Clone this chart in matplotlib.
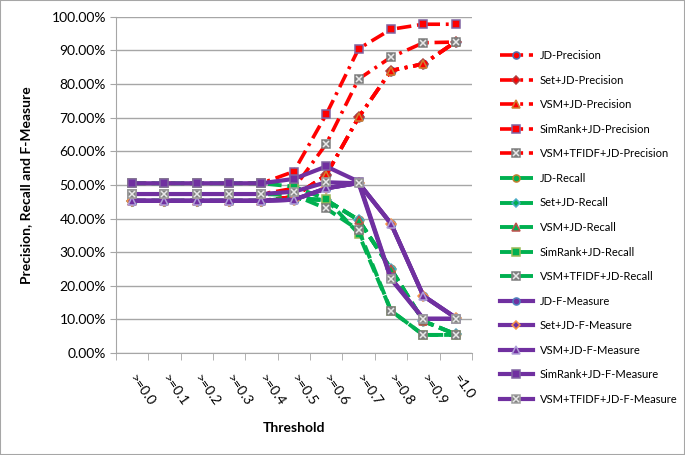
"""Precision / Recall / F-Measure vs. similarity threshold for the five JD variants."""
import matplotlib
matplotlib.use("Agg")
import matplotlib.pyplot as plt
from matplotlib.patches import Rectangle
from matplotlib.legend_handler import HandlerTuple
from matplotlib.ticker import FuncFormatter, FixedLocator

thresholds = [">=0.0", ">=0.1", ">=0.2", ">=0.3", ">=0.4", ">=0.5",
              ">=0.6", ">=0.7", ">=0.8", ">=0.9", "=1.0"]
methods = ["JD", "Set+JD", "VSM+JD", "SimRank+JD", "VSM+TFIDF+JD"]

# precision (%)
jd_p      = [45.3, 45.3, 45.3, 45.3, 45.3, 46.5, 53.0, 70.1, 84.0, 86.0, 92.6]
set_p     = [45.3, 45.3, 45.3, 45.3, 45.3, 46.5, 53.0, 70.1, 84.0, 86.0, 92.6]
vsm_p     = [45.3, 45.3, 45.3, 45.3, 45.3, 46.5, 53.0, 70.1, 84.0, 86.0, 92.6]
simrank_p = [50.5, 50.5, 50.5, 50.5, 50.5, 54.0, 71.0, 90.5, 96.3, 97.8, 97.8]
tfidf_p   = [47.3, 47.3, 47.3, 47.3, 47.3, 49.0, 62.2, 81.5, 88.0, 92.3, 92.5]
# recall (%)
jd_r      = [45.3, 45.3, 45.3, 45.3, 45.3, 46.0, 45.5, 39.6, 25.0, 9.5, 5.6]
set_r     = [45.3, 45.3, 45.3, 45.3, 45.3, 46.0, 45.5, 39.6, 25.0, 9.5, 5.6]
vsm_r     = [45.3, 45.3, 45.3, 45.3, 45.3, 46.0, 45.5, 39.6, 25.0, 9.5, 5.6]
simrank_r = [50.5, 50.5, 50.5, 50.5, 50.5, 49.5, 45.8, 35.5, 12.6, 5.4, 5.4]
tfidf_r   = [47.3, 47.3, 47.3, 47.3, 47.3, 47.0, 43.0, 36.6, 12.6, 5.4, 5.4]
# f-measure (%)
jd_f      = [45.3, 45.3, 45.3, 45.3, 45.3, 45.6, 49.0, 50.6, 38.5, 17.0, 10.5]
set_f     = [45.3, 45.3, 45.3, 45.3, 45.3, 45.6, 49.0, 50.6, 38.5, 17.0, 10.5]
vsm_f     = [45.3, 45.3, 45.3, 45.3, 45.3, 45.6, 49.0, 50.6, 38.5, 17.0, 10.5]
simrank_f = [50.5, 50.5, 50.5, 50.5, 50.5, 51.8, 55.5, 51.0, 22.3, 10.2, 10.2]
tfidf_f   = [47.3, 47.3, 47.3, 47.3, 47.3, 48.0, 50.8, 50.5, 22.0, 10.2, 10.2]

precision = [jd_p, set_p, vsm_p, simrank_p, tfidf_p]
recall = [jd_r, set_r, vsm_r, simrank_r, tfidf_r]
fmeasure = [jd_f, set_f, vsm_f, simrank_f, tfidf_f]

plt.rcParams["font.family"] = ["Lato", "DejaVu Sans"]

markers = ["o", "D", "^", "s", "s"]
groups = [
    ("Precision", precision, "#FF0000", dict(dashes=(4, 1.6, 0.8, 1.6)), 2.6,
     ["#4F6FB0", "#B04040", "#D08030", "#8064A2", "#7F7F7F"]),
    ("Recall", recall, "#00B050", dict(dashes=(3.5, 1.5)), 2.8,
     ["#C08030", "#4BACC6", "#C0504D", "#9BBB59", "#7F7F7F"]),
    ("F-Measure", fmeasure, "#7030A0", dict(linestyle="-"), 3.0,
     ["#4F81BD", "#F79646", "#B0A0D8", "#8064A2", "#A0A0A0"]),
]

fig = plt.figure(figsize=(6.85, 4.55), dpi=100)
ax = fig.add_axes([0.169, 0.224, 0.520, 0.739])
x = list(range(len(thresholds)))

handles, labels = [], []
for name, series, color, style, lw, edges in groups:
    for k, (meth, vals) in enumerate(zip(methods, series)):
        ln, = ax.plot(x, vals, color=color, lw=lw, marker=markers[k],
                      ms=5 if markers[k] == "D" else 6,
                      mfc=color if k < 4 else "#808080", mec=edges[k], mew=1.1, **style)
        h = ln
        if k == 4:
            xs, = ax.plot(x, vals, ls="none", marker="x", ms=4.5, mec="#E8E8E8", mew=1.1)
            h = (ln, xs)
        handles.append(h)
        labels.append(f"{meth}-{name}")

ax.set_xlim(-0.5, len(thresholds) - 0.5)
ax.set_ylim(0, 100)
ax.yaxis.set_major_locator(FixedLocator(range(0, 101, 10)))
ax.yaxis.set_major_formatter(FuncFormatter(lambda v, _: f"{v:.2f}%"))
ax.grid(axis="y", color="#A6A6A6", lw=1)
ax.set_axisbelow(True)
for s in ("top", "right"):
    ax.spines[s].set_visible(False)
for s in ("left", "bottom"):
    ax.spines[s].set_color("#A6A6A6")
ax.tick_params(axis="y", length=4, color="#A6A6A6", labelsize=10, pad=3)
ax.set_xticks(x)
ax.set_xticks([i - 0.5 for i in range(len(thresholds) + 1)], minor=True)
ax.tick_params(axis="x", which="major", length=0, pad=16)
ax.tick_params(axis="x", which="minor", length=5, color="#A6A6A6")
ax.set_xticklabels(thresholds, rotation=-55, ha="left", va="center",
                   rotation_mode="anchor", fontsize=10)

ax.set_xlabel("Threshold", fontsize=10, fontweight="bold", labelpad=10)
ax.set_ylabel("Precision, Recall and F-Measure", fontsize=10, fontweight="bold", labelpad=14)

fig.legend(handles, labels, loc="center left", bbox_to_anchor=(0.715, 0.5),
           frameon=False, fontsize=8, handlelength=3.0, labelspacing=1.22,
           handletextpad=0.6, markerscale=0.85,
           handler_map={tuple: HandlerTuple(ndivide=1, pad=0)})

fig.patches.append(Rectangle((0, 0), 1, 1, transform=fig.transFigure, fill=False,
                             edgecolor="#A6A6A6", lw=1.5))
fig.savefig("out.png", dpi=100)
